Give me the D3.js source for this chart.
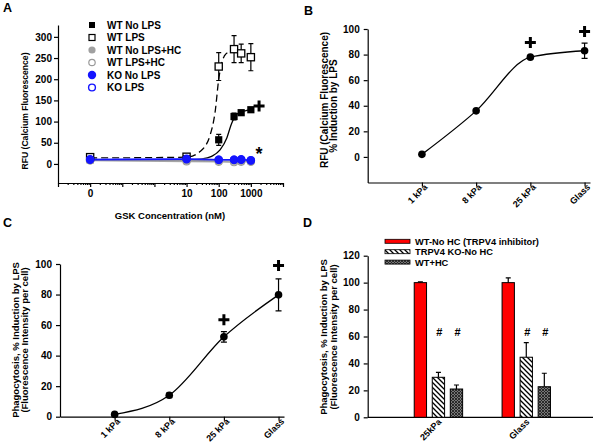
<!DOCTYPE html>
<html><head><meta charset="utf-8">
<script src="https://cdn.jsdelivr.net/npm/d3@7"></script>
<style>
body{margin:0;background:#fff;}
svg{font-family:"Liberation Sans",Arial,sans-serif;font-weight:bold;}
.axis path,.axis line{stroke:#000;stroke-width:1.2;}
.axis text{font-size:10px;font-weight:bold;fill:#000;font-family:"Liberation Sans",Arial,sans-serif;}
</style></head><body>
<svg id="c" width="600" height="448"></svg>
<script>
// ---------- Panel A data ----------
const aConc = [0, 10, 100, 300, 500, 1000];
const aWTNoLPS = [10, 12, 57, 112, 121, 128];
const aWTNoLPSErr = [3, 3, 13, 8, 4, 3];
const aWTLPS = [16, 17, 230, 271, 261, 252];
const aWTLPSErr = [5, 5, 33, 32, 22, 32];
const aWTNoLPSHC = [9, 8, 7, 7, 7, 6];
const aWTLPSHC = [8, 6, 5, 4, 5, 5];
const aKONoLPS = [10, 11, 10, 10, 10, 8];
const aKOLPS = [11, 12, 10, 10, 11, 9];
const aCurveWTNoLPS = [[0.01,10],[10,10],[30,12],[60,18],[110,33],[180,62],[250,95],[370,118],[700,126],[1000,128]];
const aCurveWTLPS = [[0.01,14],[10,16],[27,30],[55,70],[78,125],[100,200],[125,240],[150,255],[200,264],[250,266]];
const aXTickVals = [0.01, 10, 100, 1000];
const aXTickLabels = ["0", "10", "100", "1000"];
const aYTicks = [0, 50, 100, 150, 200, 250, 300];
const aLegend = ["WT No LPS", "WT LPS", "WT No LPS+HC", "WT LPS+HC", "KO No LPS", "KO LPS"];
const aPlusAt = [1800, 137];
const aStarAt = [1800, 10];

// ---------- Panel B data ----------
const bCats = ["1 kPa", "8 kPa", "25 kPa", "Glass"];
const bVals = [2, 36, 78, 83];
const bErr = [0, 0, 0, 6];
const bPlus = [null, null, 89.5, 98];
const bYTicks = [0, 20, 40, 60, 80, 100];

// ---------- Panel C data ----------
const cCats = ["1 kPa", "8 kPa", "25 kPa", "Glass"];
const cVals = [1.5, 14, 52.3, 79.8];
const cErr = [0, 1.5, 3.4, 10.5];
const cPlus = [null, null, 63.5, 99];
const cYTicks = [0, 20, 40, 60, 80, 100];

// ---------- Panel D data ----------
const dCats = ["25kPa", "Glass"];
const dSeries = ["WT-No HC (TRPV4 inhibitor)", "TRPV4 KO-No HC", "WT+HC"];
const dVals = [[100, 29.7, 21], [100, 44.6, 22.7]];
const dErr = [[0.5, 3.7, 3], [3.5, 10.8, 10]];
const dSig = [[null, "#", "#"], [null, "#", "#"]];
const dSigY = 63.5;
const dYTicks = [0, 20, 40, 60, 80, 100, 120];

const svg = d3.select("#c");
const defs = svg.append("defs");
const hatch = defs.append("pattern").attr("id","hatch").attr("patternUnits","userSpaceOnUse").attr("width",5).attr("height",5);
hatch.append("rect").attr("width",5).attr("height",5).attr("fill","#fff");
hatch.append("path").attr("d","M-1,-1L6,6M-1,4L1,6M4,-1L6,1").attr("stroke","#000").attr("stroke-width",1.3);
const dark = defs.append("pattern").attr("id","dark").attr("patternUnits","userSpaceOnUse").attr("width",3).attr("height",3);
dark.append("rect").attr("width",3).attr("height",3).attr("fill","#777");
dark.append("path").attr("d","M0,0L3,3M3,0L0,3").attr("stroke","#222").attr("stroke-width",0.9);

function plus(g, x, y, s) {
  g.append("path").attr("d",`M${x-s},${y}H${x+s}M${x},${y-s}V${y+s}`).attr("stroke","#000").attr("stroke-width",3).attr("fill","none");
}
function panelLabel(t, x, y) {
  svg.append("text").attr("x",x).attr("y",y).attr("font-size",12.5).text(t);
}
function styleAxis(g){ g.attr("class","axis"); }

// =================== Panel A ===================
{
  const xA = d3.scaleLog().domain([0.001, 10000]).range([58, 283]);
  const yA = d3.scaleLinear().domain([-45, 328]).range([183, 25]);
  const px = c => xA(c === 0 ? 0.01 : c);
  const g = svg.append("g");
  const ya = g.append("g").attr("transform","translate(58,0)")
    .call(d3.axisLeft(yA).tickValues(aYTicks).tickSize(4).tickSizeOuter(0).tickPadding(2));
  styleAxis(ya);
  const majors = d3.range(-3, 5).map(k => Math.pow(10, k));
  const minors = [];
  majors.slice(0, -1).forEach(m => { for (let i = 2; i <= 9; i++) minors.push(m * i); });
  const xa = g.append("g").attr("transform","translate(0,183)")
    .call(d3.axisBottom(xA).tickValues(majors).tickSize(4).tickSizeOuter(0).tickPadding(3)
      .tickFormat(v => { const i = aXTickVals.findIndex(t => Math.abs(t - v) / v < 1e-6); return i >= 0 ? aXTickLabels[i] : ""; }));
  styleAxis(xa);
  const xm = g.append("g").attr("transform","translate(0,183)")
    .call(d3.axisBottom(xA).tickValues(minors).tickSize(2).tickFormat(""));
  styleAxis(xm); xm.select(".domain").remove();
  xm.selectAll("line").attr("stroke-width",1);
  g.append("text").attr("x",170).attr("y",219).attr("text-anchor","middle").attr("font-size",9.5).text("GSK Concentration (nM)");
  g.append("text").attr("transform","translate(28,111) rotate(-90)").attr("text-anchor","middle").attr("font-size",8.6).text("RFU (Calcium Fluorescence)");
  const line = d3.line().x(d => xA(d[0])).y(d => yA(d[1])).curve(d3.curveMonotoneX);
  g.append("path").attr("d", line(aCurveWTLPS)).attr("fill","none").attr("stroke","#000").attr("stroke-width",1.3).attr("stroke-dasharray","7,4");
  g.append("path").attr("d", line(aCurveWTNoLPS)).attr("fill","none").attr("stroke","#000").attr("stroke-width",1.3);
  const sline = d3.line().x((d,i) => px(aConc[i])).y(d => yA(d));
  g.append("path").attr("d", sline(aWTLPSHC)).attr("fill","none").attr("stroke","#aaa").attr("stroke-width",1.5);
  g.append("path").attr("d", sline(aWTNoLPSHC)).attr("fill","none").attr("stroke","#999").attr("stroke-width",1.5);
  g.append("path").attr("d", sline(aKOLPS)).attr("fill","none").attr("stroke","#6b6bff").attr("stroke-width",1.5);
  g.append("path").attr("d", sline(aKONoLPS)).attr("fill","none").attr("stroke","#1414ff").attr("stroke-width",1.5);
  function errs(vals, err) {
    vals.forEach((v, i) => {
      const x = px(aConc[i]);
      g.append("path").attr("d",`M${x},${yA(v-err[i])}V${yA(v+err[i])}M${x-2.5},${yA(v-err[i])}H${x+2.5}M${x-2.5},${yA(v+err[i])}H${x+2.5}`)
        .attr("stroke","#000").attr("stroke-width",1.2).attr("fill","none");
    });
  }
  errs(aWTLPS, aWTLPSErr);
  errs(aWTNoLPS, aWTNoLPSErr);
  aWTLPS.forEach((v,i) => g.append("rect").attr("x",px(aConc[i])-3.6).attr("y",yA(v)-3.6).attr("width",7.2).attr("height",7.2).attr("fill","#fff").attr("stroke","#000").attr("stroke-width",1.3));
  aWTNoLPS.forEach((v,i) => g.append("rect").attr("x",px(aConc[i])-3.6).attr("y",yA(v)-3.6).attr("width",7.2).attr("height",7.2).attr("fill","#000"));
  aWTLPSHC.forEach((v,i) => g.append("circle").attr("cx",px(aConc[i])).attr("cy",yA(v)).attr("r",3.5).attr("fill","#fff").attr("stroke","#999").attr("stroke-width",1.2));
  aWTNoLPSHC.forEach((v,i) => g.append("circle").attr("cx",px(aConc[i])).attr("cy",yA(v)).attr("r",4).attr("fill","#a0a0a0"));
  aKOLPS.forEach((v,i) => g.append("circle").attr("cx",px(aConc[i])).attr("cy",yA(v)).attr("r",3.6).attr("fill","#fff").attr("stroke","#1414ff").attr("stroke-width",1.3));
  aKONoLPS.forEach((v,i) => g.append("circle").attr("cx",px(aConc[i])).attr("cy",yA(v)).attr("r",4.2).attr("fill","#1414ff"));
  plus(g, xA(aPlusAt[0]), yA(aPlusAt[1]), 5.5);
  g.append("text").attr("x",xA(aStarAt[0])).attr("y",yA(aStarAt[1])).attr("text-anchor","middle").attr("font-size",18).text("*");
  const ly0 = 25, ldy = 12.5, lmx = 92, ltx = 107;
  aLegend.forEach((t, i) => {
    const y = ly0 + i * ldy;
    const mk = g.append("g");
    if (i === 0) mk.append("rect").attr("x",lmx-3).attr("y",y-3).attr("width",6).attr("height",6).attr("fill","#000");
    if (i === 1) mk.append("rect").attr("x",lmx-3).attr("y",y-3).attr("width",6).attr("height",6).attr("fill","#fff").attr("stroke","#000").attr("stroke-width",1.2);
    if (i === 2) mk.append("circle").attr("cx",lmx).attr("cy",y).attr("r",3.6).attr("fill","#a0a0a0");
    if (i === 3) mk.append("circle").attr("cx",lmx).attr("cy",y).attr("r",3.2).attr("fill","#fff").attr("stroke","#999").attr("stroke-width",1.2);
    if (i === 4) mk.append("circle").attr("cx",lmx).attr("cy",y).attr("r",4.2).attr("fill","#1414ff");
    if (i === 5) mk.append("circle").attr("cx",lmx).attr("cy",y).attr("r",3.4).attr("fill","#fff").attr("stroke","#1414ff").attr("stroke-width",1.4);
    g.append("text").attr("x",ltx).attr("y",y+3.6).attr("font-size",10).text(t);
  });
  panelLabel("A", 3, 12);
}

// =================== Panels B and C ===================
function linePanel(opts) {
  const { cats, vals, err, plusV, yTicks, x0, x1, y0, y1, yDom, titles } = opts;
  const g = svg.append("g");
  const x = d3.scaleLinear().domain([0, 4.1]).range([x0, x1]);
  const y = d3.scaleLinear().domain(yDom).range([y0, y1]);
  const ya = g.append("g").attr("transform",`translate(${x0},0)`)
    .call(d3.axisLeft(y).tickValues(yTicks).tickSize(4).tickSizeOuter(0).tickPadding(4));
  styleAxis(ya);
  const xa = g.append("g").attr("transform",`translate(0,${y0})`)
    .call(d3.axisBottom(x).tickValues(cats.map((c,i)=>i+1)).tickSize(4).tickSizeOuter(0).tickFormat(""));
  styleAxis(xa);
  cats.forEach((c, i) => {
    g.append("text").attr("transform",`translate(${x(i+1)+4},${y0+3}) rotate(-45)`).attr("text-anchor","end")
      .attr("dy","0.35em").attr("font-size",9).text(c);
  });
  titles.forEach(t => g.append("text").attr("transform",`translate(${t.x},${t.y}) rotate(-90)`).attr("text-anchor","middle").attr("font-size",t.fs).text(t.s));
  const line = d3.line().x((d,i)=>x(i+1)).y(d=>y(d)).curve(d3.curveMonotoneX);
  g.append("path").attr("d", line(vals)).attr("fill","none").attr("stroke","#000").attr("stroke-width",1.3);
  vals.forEach((v,i) => {
    const cx = x(i+1);
    if (err[i] > 0) g.append("path").attr("d",`M${cx},${y(v-err[i])}V${y(v+err[i])}M${cx-3},${y(v-err[i])}H${cx+3}M${cx-3},${y(v+err[i])}H${cx+3}`)
      .attr("stroke","#000").attr("stroke-width",1.2).attr("fill","none");
    g.append("circle").attr("cx",cx).attr("cy",y(v)).attr("r",3.8).attr("fill","#000");
    if (plusV[i] != null) plus(g, cx, y(plusV[i]), 5.5);
  });
}
linePanel({ cats: bCats, vals: bVals, err: bErr, plusV: bPlus, yTicks: bYTicks,
  x0: 367.7, x1: 590, y0: 182.5, y1: 29, yDom: [-20, 100],
  titles: [{x:327.5,y:100,s:"RFU (Calcium Fluorescence)",fs:10},{x:337,y:106,s:"% Induction by LPS",fs:10}] });
panelLabel("B", 304, 15);
linePanel({ cats: cCats, vals: cVals, err: cErr, plusV: cPlus, yTicks: cYTicks,
  x0: 60, x1: 284, y0: 416.7, y1: 264, yDom: [0, 100],
  titles: [{x:18.5,y:340,s:"Phagocytosis, % Induction by LPS",fs:9.5},{x:28,y:340,s:"(Fluorescence Intensity per cell)",fs:9.5}] });
panelLabel("C", 3, 227);

// =================== Panel D ===================
{
  const g = svg.append("g");
  const y = d3.scaleLinear().domain([0, 120]).range([417.3, 255.7]);
  const x = d3.scaleBand().domain(dCats).range([394.5, 570.2]);
  const xi = d3.scaleBand().domain(dSeries).range([-24.2, 24.2]).paddingInner(0.317);
  const ya = g.append("g").attr("transform","translate(367.7,0)")
    .call(d3.axisLeft(y).tickValues(dYTicks).tickSize(4).tickSizeOuter(0).tickPadding(4));
  styleAxis(ya);
  g.append("line").attr("x1",367.7).attr("x2",593).attr("y1",417.3).attr("y2",417.3).attr("stroke","#000").attr("stroke-width",1.2);
  const fills = ["#ff0000", "url(#hatch)", "url(#dark)"];
  dCats.forEach((c, ci) => {
    const cx = x(c) + x.bandwidth()/2;
    dSeries.forEach((s, si) => {
      const bx = cx + xi(s);
      const v = dVals[ci][si], e = dErr[ci][si];
      const mx = bx + xi.bandwidth()/2;
      g.append("path").attr("d",`M${mx},${y(v)}V${y(v+e)}M${mx-2.5},${y(v+e)}H${mx+2.5}`).attr("stroke","#000").attr("stroke-width",1.2);
      g.append("rect").attr("x",bx).attr("y",y(v)).attr("width",xi.bandwidth()).attr("height",y(0)-y(v))
        .attr("fill",fills[si]).attr("stroke","#000").attr("stroke-width",1);
      if (dSig[ci][si]) g.append("text").attr("x",mx+1).attr("y",y(dSigY)+4).attr("text-anchor","middle").attr("font-size",11).text(dSig[ci][si]);
    });
    g.append("text").attr("transform",`translate(${cx+1.5},${420.3}) rotate(-45)`).attr("text-anchor","end").attr("dy","0.35em").attr("font-size",9).text(c);
  });
  g.append("text").attr("transform","translate(327,337) rotate(-90)").attr("text-anchor","middle").attr("font-size",9.5).text("Phagocytosis, % Induction by LPS");
  g.append("text").attr("transform","translate(336.5,337) rotate(-90)").attr("text-anchor","middle").attr("font-size",9.5).text("(Fluorescence Intensity per cell)");
  dSeries.forEach((s, i) => {
    const ly = 241.3 + i * 10.4;
    g.append("rect").attr("x",385).attr("y",ly-2).attr("width",25).attr("height",4).attr("fill",fills[i]).attr("stroke","#000").attr("stroke-width",0.8);
    g.append("text").attr("x",415).attr("y",ly+3.4).attr("font-size",9.3).text(s);
  });
  panelLabel("D", 303, 227);
}
</script></body></html>
